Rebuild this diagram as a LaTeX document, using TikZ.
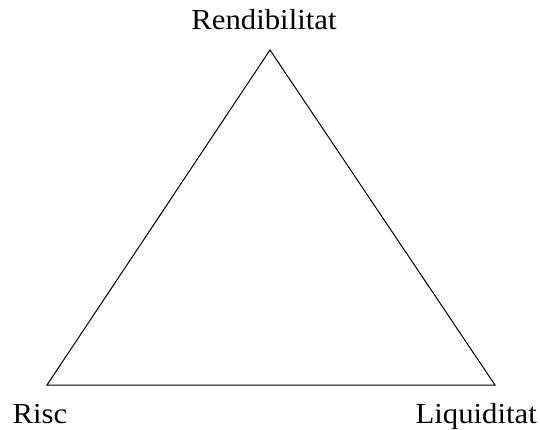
\documentclass[tikz,border=0pt]{standalone}
\usepackage{fontspec}
\setmainfont{Liberation Serif}[FakeStretch=1.06]
\begin{document}
\begin{tikzpicture}[x=1pt,y=-1pt,
  lbl/.style={inner sep=0pt,font=\fontsize{29}{32}\selectfont},
  edge/.style={line width=1pt,line join=miter}]
\useasboundingbox (0,0) rectangle (540,430);
\coordinate (top) at (270,50);
\coordinate (left) at (47,385);
\coordinate (right) at (495,385);
\draw[edge] (top) -- (left) -- (right) -- cycle;
\node[lbl,anchor=base] (r) at (264,30) {Rendibilitat};
\node[lbl,anchor=base west] (ri) at (12.5,423) {Risc};
\node[lbl,anchor=base east] (li) at (537,423) {Liquiditat};
\end{tikzpicture}
\end{document}
